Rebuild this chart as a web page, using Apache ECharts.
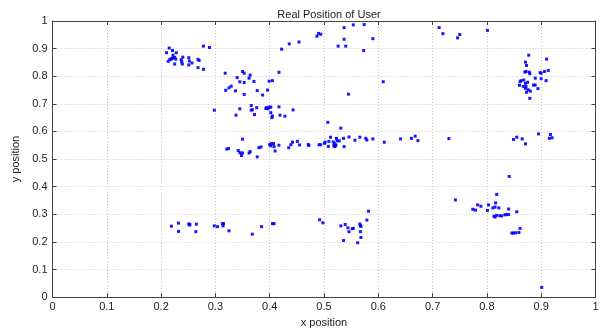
<!DOCTYPE html>
<html><head><meta charset="utf-8">
<script src="https://cdn.jsdelivr.net/npm/echarts@6/dist/echarts.min.js"></script>
<style>html,body{margin:0;padding:0;background:#fff}#c{width:611px;height:333px}</style>
</head><body><div id="c"></div>
<script>
const titleText = "Real Position of User";
const xName = "x position";
const yName = "y position";
const xTicks = [0,0.1,0.2,0.3,0.4,0.5,0.6,0.7,0.8,0.9,1];
const yTicks = [0,0.1,0.2,0.3,0.4,0.5,0.6,0.7,0.8,0.9,1];

const clusterTopLeft = [[0.210,0.885],[0.215,0.902],[0.221,0.893],[0.228,0.885],[0.222,0.876],[0.213,0.854],[0.218,0.862],[0.220,0.864],[0.222,0.866],[0.225,0.868],[0.227,0.862],[0.216,0.860],[0.237,0.860],[0.240,0.869],[0.238,0.852],[0.225,0.844],[0.239,0.844],[0.251,0.867],[0.252,0.855],[0.251,0.841],[0.257,0.848],[0.268,0.861],[0.270,0.857],[0.268,0.831],[0.278,0.825],[0.278,0.909],[0.289,0.904]];
const clusterUpperMid = [[0.318,0.811],[0.350,0.817],[0.353,0.811],[0.364,0.804],[0.340,0.795],[0.362,0.793],[0.345,0.780],[0.353,0.777],[0.371,0.781],[0.329,0.764],[0.325,0.758],[0.319,0.749],[0.337,0.747],[0.377,0.748],[0.396,0.750],[0.353,0.734],[0.387,0.732],[0.399,0.782],[0.405,0.784],[0.417,0.814]];
const topArc = [[0.422,0.898],[0.436,0.917],[0.454,0.924],[0.487,0.945],[0.490,0.955],[0.494,0.952],[0.526,0.909],[0.537,0.934],[0.540,0.909],[0.537,0.976],[0.554,0.986],[0.574,0.987],[0.590,0.936],[0.573,0.893],[0.712,0.976],[0.719,0.954],[0.746,0.939],[0.750,0.951],[0.801,0.966]];
const scattered = [[0.545,0.735],[0.609,0.780],[0.507,0.633],[0.531,0.612],[0.901,0.035]];
const clusterMid = [[0.298,0.677],[0.345,0.682],[0.338,0.659],[0.366,0.694],[0.376,0.686],[0.366,0.677],[0.368,0.679],[0.372,0.661],[0.394,0.686],[0.397,0.682],[0.393,0.683],[0.399,0.688],[0.402,0.688],[0.417,0.689],[0.402,0.668],[0.405,0.656],[0.404,0.650],[0.419,0.659],[0.428,0.655],[0.443,0.678]];
const bandMiddle = [[0.350,0.572],[0.321,0.536],[0.324,0.538],[0.342,0.531],[0.345,0.523],[0.350,0.522],[0.348,0.513],[0.362,0.522],[0.364,0.527],[0.377,0.508],[0.380,0.541],[0.384,0.544],[0.400,0.552],[0.407,0.556],[0.403,0.556],[0.408,0.545],[0.402,0.548],[0.410,0.529],[0.417,0.550],[0.435,0.541],[0.439,0.552],[0.442,0.561],[0.451,0.564],[0.455,0.551],[0.471,0.553],[0.472,0.549],[0.491,0.552],[0.494,0.552],[0.501,0.557],[0.502,0.561],[0.508,0.546],[0.509,0.564],[0.512,0.579],[0.517,0.562],[0.519,0.556],[0.521,0.551],[0.518,0.548],[0.522,0.551],[0.520,0.545],[0.523,0.575],[0.524,0.566],[0.528,0.566],[0.536,0.575],[0.537,0.545],[0.546,0.580],[0.557,0.568],[0.566,0.579],[0.577,0.575],[0.579,0.569],[0.590,0.573],[0.611,0.561],[0.641,0.573],[0.661,0.575],[0.668,0.583],[0.673,0.567],[0.730,0.574]];
const rightMiddle = [[0.855,0.579],[0.849,0.571],[0.865,0.573],[0.871,0.555],[0.895,0.591],[0.917,0.589],[0.915,0.575],[0.920,0.577]];
const clusterRight = [[0.877,0.876],[0.871,0.851],[0.910,0.862],[0.873,0.839],[0.870,0.815],[0.872,0.817],[0.878,0.815],[0.879,0.809],[0.898,0.813],[0.900,0.811],[0.906,0.817],[0.913,0.821],[0.889,0.793],[0.900,0.791],[0.909,0.784],[0.863,0.784],[0.861,0.780],[0.868,0.786],[0.871,0.774],[0.875,0.778],[0.860,0.767],[0.867,0.763],[0.872,0.763],[0.871,0.756],[0.886,0.768],[0.889,0.768],[0.876,0.751],[0.880,0.746],[0.894,0.755],[0.873,0.742],[0.879,0.720]];
const clusterLowerRight = [[0.841,0.437],[0.742,0.352],[0.818,0.372],[0.816,0.341],[0.783,0.334],[0.789,0.329],[0.803,0.334],[0.774,0.318],[0.779,0.315],[0.811,0.323],[0.815,0.326],[0.822,0.323],[0.801,0.314],[0.840,0.319],[0.855,0.309],[0.813,0.293],[0.815,0.290],[0.818,0.296],[0.824,0.295],[0.827,0.294],[0.833,0.298],[0.836,0.299],[0.840,0.299],[0.861,0.249],[0.859,0.234],[0.846,0.232],[0.849,0.232],[0.853,0.233]];
const bandLower = [[0.219,0.257],[0.232,0.268],[0.232,0.238],[0.251,0.265],[0.253,0.263],[0.252,0.261],[0.265,0.264],[0.264,0.237],[0.298,0.258],[0.304,0.255],[0.313,0.266],[0.315,0.266],[0.314,0.258],[0.325,0.240],[0.368,0.228],[0.385,0.255],[0.405,0.266],[0.408,0.266],[0.492,0.280],[0.498,0.269],[0.531,0.258],[0.539,0.263],[0.544,0.251],[0.546,0.237],[0.552,0.248],[0.554,0.249],[0.536,0.205],[0.566,0.265],[0.567,0.259],[0.568,0.256],[0.567,0.237],[0.568,0.216],[0.562,0.197],[0.579,0.279],[0.582,0.311]];

const allPoints = [].concat(clusterTopLeft, clusterUpperMid, topArc, scattered, clusterMid, bandMiddle, rightMiddle, clusterRight, clusterLowerRight, bandLower);

const font = "Liberation Sans, Arial, sans-serif";
const chart = echarts.init(document.getElementById('c'), null, {renderer:'canvas'});
const axisCommon = {
  min: 0, max: 1, interval: 0.1,
  axisLine: {show: true, onZero: false, lineStyle: {color: '#444', width: 1}},
  axisTick: {show: true, inside: true, length: 4, lineStyle: {color: '#444'}},
  splitLine: {show: true, lineStyle: {color: '#c8c8c8', type: [1, 2], width: 1}},
  axisLabel: {color: '#222', fontSize: 11, fontFamily: font}
};
chart.setOption({
  animation: false,
  backgroundColor: '#fff',
  title: {text: titleText, left: 324, top: 4, textAlign: 'center',
    textStyle: {fontSize: 11, fontWeight: 'normal', color: '#222', fontFamily: font}},
  grid: {left: 52.5, right: 15.5, top: 21, bottom: 24, show: false},
  xAxis: [
    Object.assign({}, axisCommon, {type: 'value', position: 'bottom', name: xName, nameLocation: 'middle', nameGap: 14,
      nameTextStyle: {fontSize: 11, color: '#222', fontFamily: font},
      axisLabel: {color: '#222', fontSize: 11, fontFamily: font, margin: 4,
        formatter: v => { const t = xTicks.find(k => Math.abs(k - v) < 1e-9); return t === undefined ? '' : String(t); }}}),
    Object.assign({}, axisCommon, {type: 'value', position: 'top', axisLabel: {show: false}, splitLine: {show: false}})
  ],
  yAxis: [
    Object.assign({}, axisCommon, {type: 'value', position: 'left', name: yName, nameLocation: 'middle', nameGap: 23,
      nameTextStyle: {fontSize: 11, color: '#222', fontFamily: font},
      axisLabel: {color: '#222', fontSize: 11, fontFamily: font, margin: 5,
        formatter: v => { const t = yTicks.find(k => Math.abs(k - v) < 1e-9); return t === undefined ? '' : String(t); }}}),
    Object.assign({}, axisCommon, {type: 'value', position: 'right', axisLabel: {show: false}, splitLine: {show: false}})
  ],
  series: [{
    type: 'scatter', xAxisIndex: 0, yAxisIndex: 0,
    data: allPoints, symbol: 'rect', symbolSize: 3,
    itemStyle: {color: '#0000ff', opacity: 0.9}
  }]
});
</script></body></html>
